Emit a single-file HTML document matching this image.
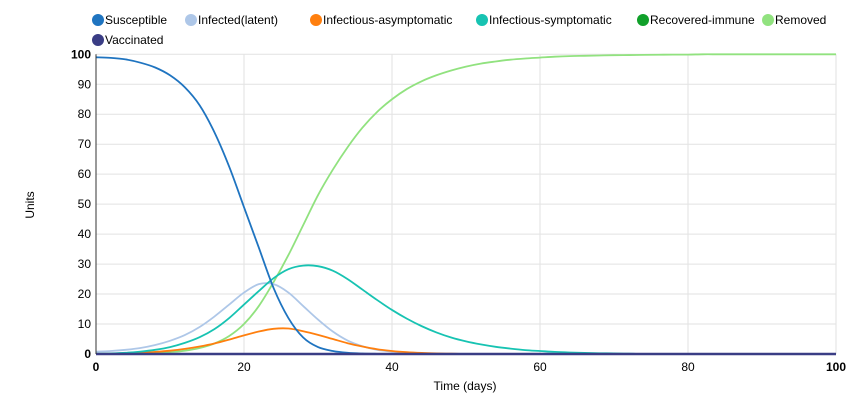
<!DOCTYPE html>
<html><head><meta charset="utf-8">
<style>
body{margin:0;background:#fff;font-family:"Liberation Sans",Arial,sans-serif;}
svg text{font-family:"Liberation Sans",Arial,sans-serif;}
</style></head>
<body>
<svg id="chart" width="861" height="403" viewBox="0 0 861 403" xmlns="http://www.w3.org/2000/svg">
<g id="legend"></g>
<g id="grid"></g>
<g id="series"></g>
<g id="axes"></g>
<text x="465" y="390" font-size="12" text-anchor="middle" fill="#000">Time (days)</text>
<text x="34" y="205" font-size="12" text-anchor="middle" fill="#000" transform="rotate(-90 34 205)">Units</text>
</svg>
<script>
const days=[0,2,4,6,8,10,12,14,16,18,20,22,24,26,28,30,32,34,36,38,40,42,44,46,48,50,52,54,56,58,60,62,64,66,68,70,72,74,76,78,80,82,84,86,88,90,92,94,96,98,100];
const susceptible=[99,98.8,98.3,97.2,95.6,93,89,83,74,62.5,49,35.5,22,12,5.5,2.3,1,0.4,0.15,0.05,0,0,0,0,0,0,0,0,0,0,0,0,0,0,0,0,0,0,0,0,0,0,0,0,0,0,0,0,0,0,0];
const latent=[0.8,1,1.4,2,3,4.4,6.3,9,12.5,16.5,20.5,23.3,23.3,20.5,16,11.5,7.5,4.5,2.6,1.4,0.8,0.4,0.2,0.1,0,0,0,0,0,0,0,0,0,0,0,0,0,0,0,0,0,0,0,0,0,0,0,0,0,0,0];
const asymptomatic=[0,0.1,0.2,0.4,0.7,1.1,1.7,2.5,3.5,4.8,6.2,7.5,8.4,8.5,7.6,6.4,5,3.6,2.5,1.6,1,0.6,0.35,0.2,0.1,0,0,0,0,0,0,0,0,0,0,0,0,0,0,0,0,0,0,0,0,0,0,0,0,0,0];
const symptomatic=[0.1,0.2,0.4,0.8,1.4,2.3,3.7,5.6,8.3,12,16.5,21,25.3,28.3,29.5,29.3,27.8,25,21.5,18,14.7,11.8,9.3,7.2,5.5,4.2,3.2,2.4,1.8,1.3,1,0.7,0.5,0.35,0.25,0.2,0.1,0,0,0,0,0,0,0,0,0,0,0,0,0,0];
const recovered=[0,0,0,0,0,0,0,0,0,0,0,0,0,0,0,0,0,0,0,0,0,0,0,0,0,0,0,0,0,0,0,0,0,0,0,0,0,0,0,0,0,0,0,0,0,0,0,0,0,0,0];
const removed=[0,0,0.05,0.1,0.2,0.6,1.1,2,3.5,6,10,16,24,33,43,53,61.5,69,75.5,80.8,85,88.4,91,93,94.6,95.9,96.9,97.6,98.2,98.6,98.9,99.2,99.4,99.5,99.6,99.7,99.75,99.8,99.85,99.9,99.9,100,100,100,100,100,100,100,100,100,100];
const vaccinated=[0,0,0,0,0,0,0,0,0,0,0,0,0,0,0,0,0,0,0,0,0,0,0,0,0,0,0,0,0,0,0,0,0,0,0,0,0,0,0,0,0,0,0,0,0,0,0,0,0,0,0];
const xTicks=[0,20,40,60,80,100];
const yTicks=[0,10,20,30,40,50,60,70,80,90,100];
const seriesNames=["Susceptible","Infected(latent)","Infectious-asymptomatic","Infectious-symptomatic","Recovered-immune","Removed","Vaccinated"];

const NS="http://www.w3.org/2000/svg";
const X0=96,X1=836,Y0=354,Y1=54.3;
function xs(v){return X0+(v-0)/(100-0)*(X1-X0);}
function ys(v){return Y0-(v-0)/(100-0)*(Y0-Y1);}
function mk(tag,attrs,parent){const e=document.createElementNS(NS,tag);for(const k in attrs)e.setAttribute(k,attrs[k]);parent.appendChild(e);return e;}

const grid=document.getElementById('grid'),axes=document.getElementById('axes'),ser=document.getElementById('series'),leg=document.getElementById('legend');
yTicks.forEach(t=>{
  if(t>0){const l=mk('line',{x1:X0,x2:X1,y1:ys(t),y2:ys(t),stroke:'#e2e2e2','stroke-width':1},grid);
  
  }
  const tx=mk('text',{x:X0-5,y:ys(t)+4,'font-size':12,'text-anchor':'end',fill:'#000','font-weight':(t===0||t===100)?'bold':'normal'},axes);
  tx.textContent=t;
  
  
});
xTicks.forEach(t=>{
  if(t>0){const l=mk('line',{x1:xs(t),x2:xs(t),y1:Y1,y2:Y0,stroke:'#e2e2e2','stroke-width':1},grid);
  
  }
  const tx=mk('text',{x:xs(t),y:Y0+17,'font-size':12,'text-anchor':'middle',fill:'#000','font-weight':(t===0||t===100)?'bold':'normal'},axes);
  tx.textContent=t;
  
  
});
const ya=mk('line',{x1:X0,x2:X0,y1:Y1,y2:Y0,stroke:'#333','stroke-width':1},axes);



const colors=['#1f74c0','#aec7e8','#ff7f0e','#17c3b2','#10a02a','#91e27f','#3a3d85'];
const data=[susceptible,latent,asymptomatic,symptomatic,recovered,removed,vaccinated];
const order=[5,1,2,3,0,4,6];
order.forEach(i=>{
  const vals=data[i];
  const pts=days.map((d,k)=>[xs(d),ys(vals[k])]);
  let dstr='M'+pts[0][0]+','+pts[0][1];
  for(let k=0;k<pts.length-1;k++){
    const p0=pts[Math.max(0,k-1)],p1=pts[k],p2=pts[k+1],p3=pts[Math.min(pts.length-1,k+2)];
    let c1y=p1[1]+(p2[1]-p0[1])/6,c2y=p2[1]-(p3[1]-p1[1])/6;
    c1y=Math.min(c1y,Y0);c2y=Math.min(c2y,Y0);
    dstr+=' C'+(p1[0]+(p2[0]-p0[0])/6)+','+c1y+' '+(p2[0]-(p3[0]-p1[0])/6)+','+c2y+' '+p2[0]+','+p2[1];
  }
  const p=mk('path',{d:dstr,fill:'none',stroke:colors[i],'stroke-width':(i===6?2.5:1.8)},ser);
  
  
});

const legPos=[[98,20],[191,20],[316,20],[482,20],[643,20],[768,20],[98,40]];
seriesNames.forEach((n,i)=>{
  const g=mk('g',{},leg);
  
  
  mk('circle',{cx:legPos[i][0],cy:legPos[i][1],r:6,fill:colors[i]},g);
  const t=mk('text',{x:legPos[i][0]+7,y:legPos[i][1]+4,'font-size':12,fill:'#000'},g);
  t.textContent=n;
});
</script>
</body></html>
